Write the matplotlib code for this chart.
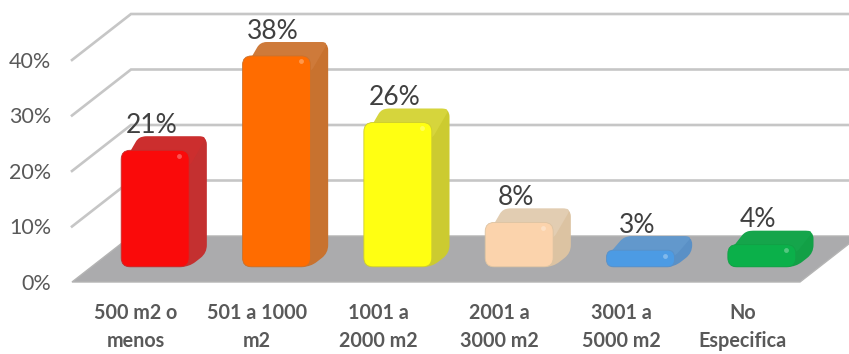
import numpy as np
import matplotlib
matplotlib.use("Agg")
import matplotlib.pyplot as plt
from matplotlib.path import Path
from matplotlib.patches import PathPatch, Polygon
from matplotlib.transforms import ScaledTranslation

categories = ["500 m2 o\nmenos", "501 a 1000\nm2", "1001 a\n2000 m2",
              "2001 a\n3000 m2", "3001 a\n5000 m2", "No\nEspecifica"]
values = [21, 38, 26, 8, 3, 4]
y_ticks = [0, 10, 20, 30, 40]
front_colors = ["#FA0A0A", "#FF6C00", "#FFFF12", "#FBD3AC", "#4C9BE4", "#0BB04A"]
side_colors = ["#C43030", "#C8722F", "#CCCB30", "#DCC3A2", "#5A90C6", "#12A046"]
top_colors = ["#CC2E2E", "#CE7A3A", "#D6D53C", "#E2CDB2", "#6298CC", "#15A54B"]

fig = plt.figure(figsize=(8.49, 3.54), dpi=100)
ax = fig.add_axes([72/849, 72/354, 728/849, 222/354])
ax.set_xlim(-0.5, 5.5)
ax.set_ylim(0, 40)

# size of one data unit in pixels, the 3d look is built from these
ux = 728/6.0
uy = 222/40.0
depth_x = 59/ux
depth_y = 46/uy


def proj(x, y, d):
    return x + d*depth_x, y + d*depth_y


def rounded(points, r):
    # closed polygon with rounded corners, radius given in pixels
    pts = np.array(points, dtype=float)*[ux, uy]
    n = len(pts)
    verts = []
    codes = []
    for i in range(n):
        p0, p1, p2 = pts[i-1], pts[i], pts[(i+1) % n]
        a = p0 - p1
        b = p2 - p1
        ra = min(r, np.hypot(*a)/2)
        rb = min(r, np.hypot(*b)/2)
        s = p1 + a/np.hypot(*a)*ra
        e = p1 + b/np.hypot(*b)*rb
        verts += [s, p1, e]
        codes += [Path.MOVETO if i == 0 else Path.LINETO, Path.CURVE3, Path.CURVE3]
    verts.append(verts[0])
    codes.append(Path.CLOSEPOLY)
    return Path(np.array(verts)/[ux, uy], codes)


grid_color = "#C6C6C6"
# back wall and side wall lines
for t in y_ticks[1:]:
    x0, y0 = proj(-0.5, t, 0)
    x1, y1 = proj(-0.5, t, 1)
    x2, y2 = proj(5.5, t, 1)
    ax.plot([x0, x1, x2], [y0, y1, y2], color=grid_color, lw=1.9,
            clip_on=False, solid_joinstyle="miter", zorder=1)

# floor
floor = [proj(-0.5, 0, 0), proj(5.5, 0, 0), proj(5.5, 0, 1), proj(-0.5, 0, 1)]
ax.add_patch(Polygon(floor, closed=True, fc="#ABABAD", ec="#B4B4B4", lw=1,
                     clip_on=False, zorder=2))

bar_w = 0.56
bar_shift = 0.025
d_front = 0.33
d_back = 0.63

for i, v in enumerate(values):
    xl = i - bar_w/2 + bar_shift
    xr = i + bar_w/2 + bar_shift
    r = min(9, v*uy*0.42)
    lip = min(3, v*0.4)

    # side face runs from the floor up to the back edge of the top
    side = [proj(xl, v, d_back), proj(xr, v, d_back), proj(xr, 0, d_back),
            proj(xr, 0, d_front), proj(xl, 0, d_front)]
    ax.add_patch(PathPatch(rounded(side, 8), fc=side_colors[i], ec="none",
                           clip_on=False, zorder=3))
    # top face goes a little under the front face so its rounding leaves no gap
    top = [proj(xl, v - lip, d_front), proj(xl, v, d_back), proj(xr, v, d_back),
           proj(xr, v - lip, d_front)]
    ax.add_patch(PathPatch(rounded(top, 6), fc=top_colors[i], ec="none",
                           clip_on=False, zorder=4))

    front = [proj(xl, 0, d_front), proj(xl, v, d_front), proj(xr, v, d_front),
             proj(xr, 0, d_front)]
    ax.add_patch(PathPatch(rounded(front, r), fc=front_colors[i],
                           ec=side_colors[i], lw=0.6, clip_on=False, zorder=5))

    # small shine near the upper corner
    hx, hy = proj(xr - 0.08, v - 1.0, d_front)
    ax.plot([hx], [hy], "o", ms=3.5, color="white", alpha=0.3, mew=0,
            clip_on=False, zorder=6)

    # value label above the bar
    lx, ly = proj(i, v, d_back)
    ax.annotate("{}%".format(v), (lx, ly), xytext=(-13, -1),
                textcoords="offset points", ha="center", va="bottom",
                fontsize=19, family="Lato", color="#404040",
                annotation_clip=False, zorder=7)

ax.set_xticks(range(len(categories)))
ax.set_xticklabels(categories, family="Lato", fontweight="bold", fontsize=14.2,
                   color="#595959", linespacing=1.5)
ax.set_yticks(y_ticks)
ax.set_yticklabels(["{}%".format(t) for t in y_ticks], family="Lato",
                   fontsize=15.5, color="#595959")
ax.tick_params(axis="both", length=0)
ax.tick_params(axis="x", pad=15)
ax.tick_params(axis="y", pad=15)
# category labels sit a bit right of the floor slots
for lab in ax.get_xticklabels():
    lab.set_transform(lab.get_transform() + ScaledTranslation(3/100, 0, fig.dpi_scale_trans))
for s in ax.spines.values():
    s.set_visible(False)

plt.savefig("out.png", dpi=100)
